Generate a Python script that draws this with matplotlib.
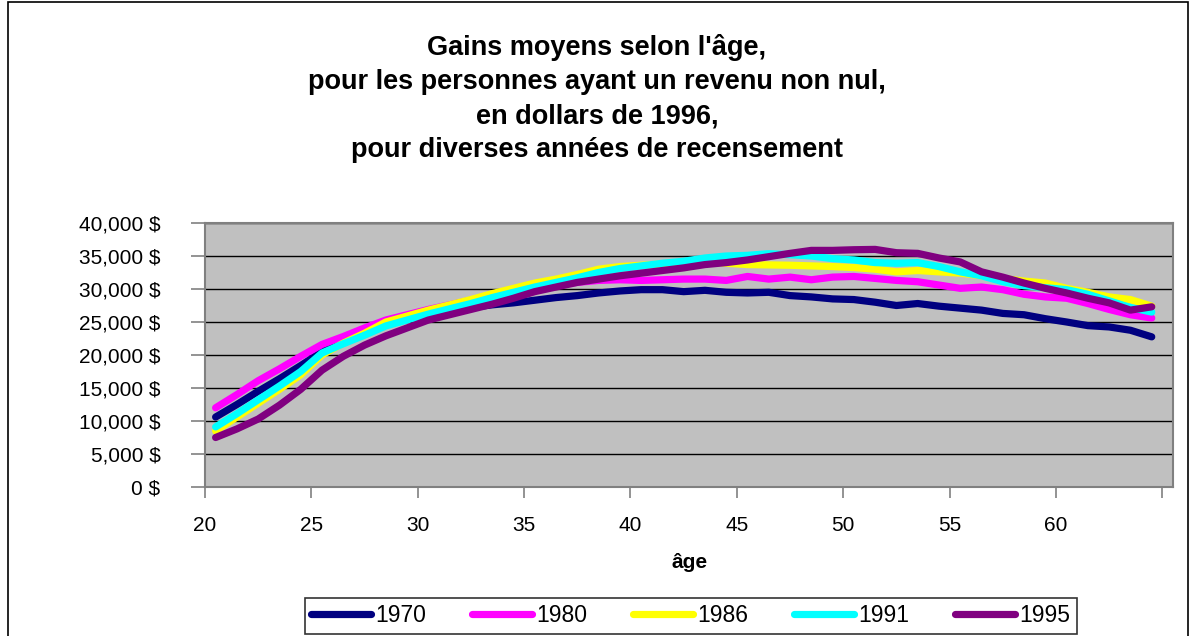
import matplotlib
matplotlib.use("Agg")
import matplotlib.pyplot as plt
from matplotlib.patches import Rectangle
from matplotlib.ticker import FuncFormatter, FixedLocator

plt.rcParams['font.family'] = ['Liberation Sans', 'DejaVu Sans']

ages = list(range(20, 65))  # 20..64, plotted at mid-year (age + 0.5)

y1970 = [10.6, 12.5, 14.5, 16.4, 18.4, 20.5, 22.2, 23.6, 24.6, 25.5,
         26.2, 26.7, 27.2, 27.6, 27.9, 28.3, 28.7, 29.0, 29.4, 29.7,
         29.9, 29.9, 29.6, 29.8, 29.5, 29.4, 29.5, 29.0, 28.8, 28.5,
         28.4, 28.0, 27.5, 27.8, 27.4, 27.1, 26.8, 26.3, 26.1, 25.5,
         25.0, 24.45, 24.25, 23.75, 22.75]
y1980 = [12.0, 14.0, 16.1, 17.9, 19.8, 21.6, 22.8, 24.1, 25.3, 26.1,
         26.9, 27.6, 28.3, 29.0, 29.6, 30.2, 30.7, 31.0, 31.3, 31.4,
         31.3, 31.4, 31.5, 31.5, 31.3, 31.9, 31.5, 31.8, 31.4, 31.8,
         31.9, 31.6, 31.3, 31.1, 30.6, 30.1, 30.3, 29.9, 29.2, 28.8,
         28.6, 27.8, 26.9, 26.1, 25.6]
y1986 = [8.5, 10.6, 12.7, 14.8, 17.0, 20.0, 21.8, 23.3, 25.0, 25.9,
         26.8, 27.6, 28.4, 29.3, 30.1, 30.9, 31.5, 32.2, 33.0, 33.4,
         33.6, 33.8, 34.0, 34.2, 33.9, 33.7, 33.65, 33.6, 33.5, 33.4,
         33.25, 33.0, 32.6, 32.8, 32.6, 32.4, 32.0, 31.6, 31.2, 30.9,
         30.1, 29.5, 28.8, 28.4, 27.4]
y1991 = [9.1, 11.1, 13.2, 15.3, 17.5, 20.3, 21.7, 23.0, 24.4, 25.3,
         26.2, 27.0, 27.8, 28.7, 29.5, 30.3, 31.0, 31.7, 32.5, 33.1,
         33.5, 33.9, 34.2, 34.7, 35.0, 35.1, 35.35, 35.2, 35.0, 34.6,
         34.4, 34.0, 33.9, 34.0, 33.4, 32.6, 32.0, 31.1, 30.5, 30.2,
         29.9, 29.2, 28.2, 27.2, 26.5]
y1995 = [7.5, 8.8, 10.3, 12.4, 14.8, 17.7, 19.8, 21.5, 22.9, 24.1,
         25.3, 26.1, 26.9, 27.7, 28.6, 29.6, 30.3, 31.0, 31.5, 32.0,
         32.4, 32.8, 33.2, 33.7, 34.0, 34.4, 34.9, 35.4, 35.85, 35.85,
         35.95, 36.0, 35.5, 35.4, 34.7, 34.1, 32.6, 31.8, 30.9, 30.1,
         29.4, 28.6, 27.9, 26.8, 27.3]

series = [("1970", y1970, "#000080"),
          ("1980", y1980, "#FF00FF"),
          ("1986", y1986, "#FFFF00"),
          ("1991", y1991, "#00FFFF"),
          ("1995", y1995, "#800080")]

x_ticks = [20, 25, 30, 35, 40, 45, 50, 55, 60, 65]
x_ticklabels = ["20", "25", "30", "35", "40", "45", "50", "55", "60", ""]
y_ticks = [0, 5000, 10000, 15000, 20000, 25000, 30000, 35000, 40000]

title = ("Gains moyens selon l'âge,\n"
         "pour les personnes ayant un revenu non nul,\n"
         "en dollars de 1996,\n"
         "pour diverses années de recensement")

W, H = 1194, 636
fig = plt.figure(figsize=(W / 100, H / 100), dpi=100)
fig.patch.set_facecolor("white")

# chart-area border
fig.patches.append(Rectangle((8 / W, -0.02), (1188 - 8) / W, 1.02 - 2 / H,
                             transform=fig.transFigure, fill=False,
                             edgecolor="black", linewidth=1.2))

left, right, top, bottom = 205, 1173, 223, 487
ax = fig.add_axes([left / W, 1 - bottom / H, (right - left) / W, (bottom - top) / H])
ax.set_facecolor("#C0C0C0")

xs = [a + 0.5 for a in ages]
for name, vals, col in series:
    ax.plot(xs, [v * 1000 for v in vals], color=col, lw=5.2,
            solid_capstyle="round", solid_joinstyle="round", label=name)

ax.set_xlim(20, 65.5)
ax.set_ylim(0, 40000)
ax.yaxis.set_major_locator(FixedLocator(y_ticks))
ax.yaxis.set_major_formatter(FuncFormatter(lambda v, p: f"{int(v):,} $"))
ax.set_xticks(x_ticks)
ax.set_xticklabels(x_ticklabels)
ax.grid(axis="y", color="black", lw=1)
ax.set_axisbelow(True)

for s in ax.spines.values():
    s.set_color("#808080")
    s.set_linewidth(1.5)
ax.tick_params(axis="y", direction="out", length=10, width=1.2, color="#808080",
               labelsize=15, pad=22, labelcolor="black")
ax.tick_params(axis="x", direction="out", length=8, width=1.2, color="#808080",
               labelsize=15, pad=13, labelcolor="black")

fig.text(597 / W, 1 - 34 / H, title, ha="center", va="top", fontsize=19.5,
         fontweight="bold", linespacing=1.4)
fig.text(690 / W, 1 - 562 / H, "âge", ha="center", va="center", fontsize=15,
         fontweight="bold")

leg = fig.legend(loc="center", bbox_to_anchor=(691 / W, 1 - 616 / H), ncol=5,
                 fontsize=16.5, handlelength=2.6, handletextpad=0.2,
                 columnspacing=2.0, frameon=True, fancybox=False,
                 borderpad=0.3)
leg.get_frame().set_edgecolor("black")
leg.get_frame().set_linewidth(1.2)
for ln in leg.get_lines():
    ln.set_linewidth(5.2)
    ln.set_solid_capstyle("round")

fig.savefig("out.png", dpi=100)
